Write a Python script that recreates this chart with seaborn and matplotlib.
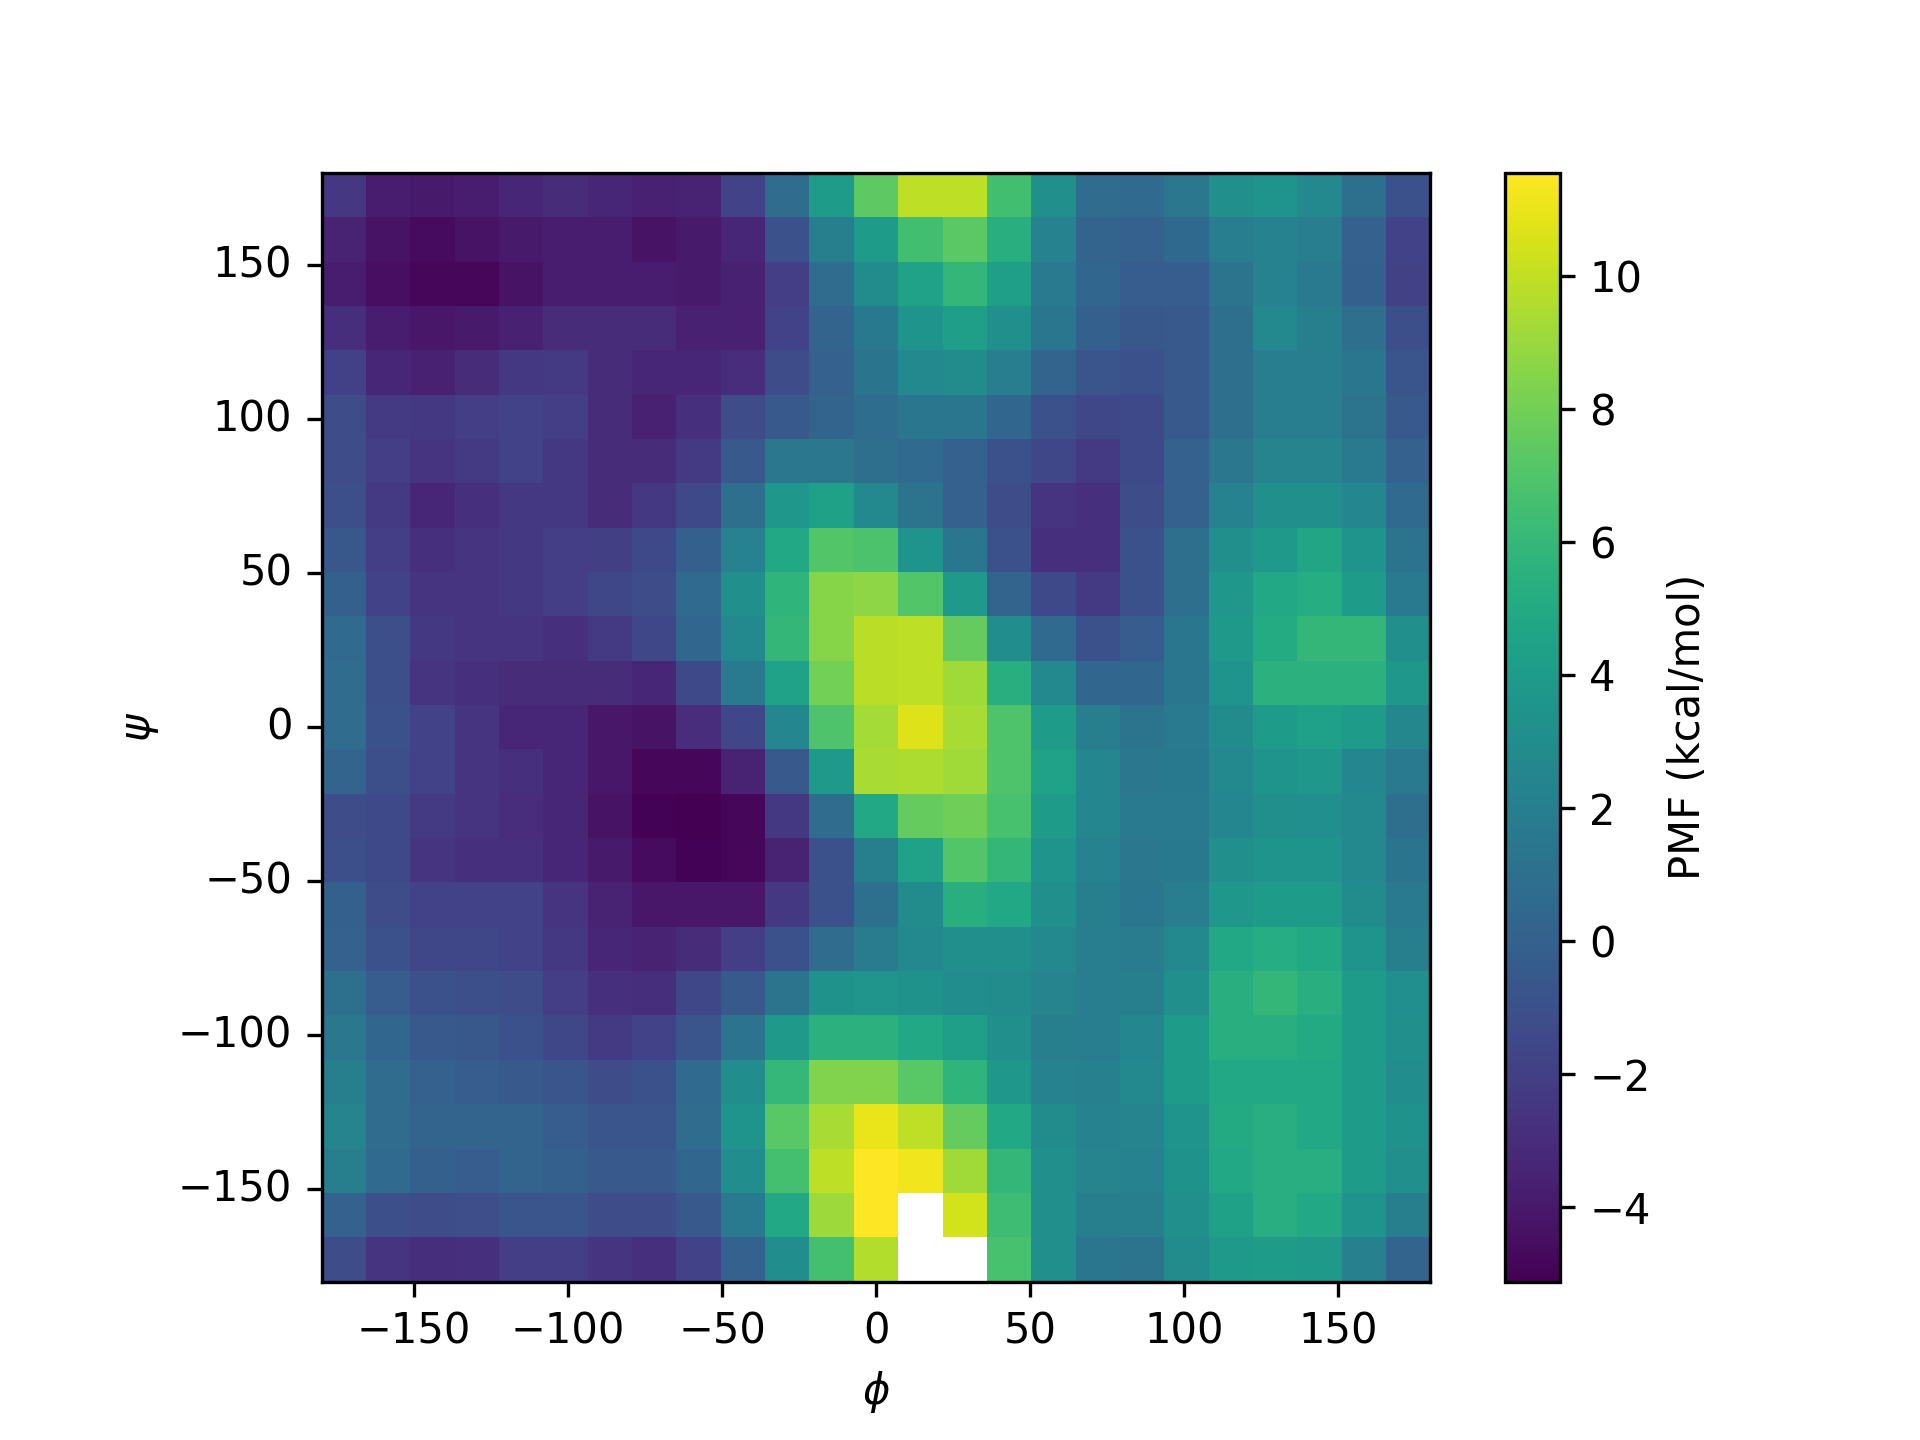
import numpy as np
import pandas as pd
import matplotlib
matplotlib.use("Agg")
import matplotlib.pyplot as plt
import seaborn as sns

nan = np.nan

# bin edges of the 2D histogram (25 x 25 bins over -180..180)
edges = np.linspace(-180, 180, 26)
phi = (edges[:-1] + edges[1:]) / 2
psi = phi[::-1]  # rows from top (psi=180) to bottom

# PMF values (kcal/mol), one list per psi row, top to bottom
r00 = [-2.5, -3.8, -4.0, -3.8, -3.3, -3.1, -3.3, -3.6, -3.5, -1.8, 0.7, 4.0, 7.4, 9.9, 9.9, 6.5, 3.2, 0.7, 0.6, 1.5, 3.2, 3.5, 2.7, 1.0, -1.0]
r01 = [-3.5, -4.3, -4.6, -4.3, -4.0, -3.8, -3.8, -4.3, -4.0, -3.3, -1.0, 2.0, 4.0, 6.5, 7.3, 5.4, 2.2, 0.2, 0.0, 0.5, 1.9, 2.2, 1.9, 0.0, -1.8]
r02 = [-3.8, -4.5, -4.8, -4.8, -4.3, -3.8, -3.8, -3.8, -4.0, -3.6, -2.1, 0.7, 2.9, 4.5, 5.9, 4.2, 1.7, 0.4, -0.3, -0.3, 1.2, 2.2, 1.7, -0.1, -1.9]
r03 = [-2.95, -3.8, -4.1, -4.0, -3.6, -3.1, -3.1, -3.1, -3.6, -3.6, -1.8, 0.2, 1.6, 3.5, 4.2, 3.2, 1.4, -0.1, -0.6, -0.5, 0.9, 2.7, 2.0, 0.9, -1.1]
r04 = [-1.95, -3.3, -3.6, -3.1, -2.45, -2.3, -3.1, -3.3, -3.3, -3.0, -1.3, 0.0, 1.3, 2.7, 2.9, 1.9, 0.2, -0.8, -1.0, -0.5, 0.9, 1.9, 1.9, 1.4, -0.8]
r05 = [-1.3, -2.3, -2.45, -2.1, -1.8, -2.1, -3.1, -3.6, -2.8, -1.3, -0.5, 0.2, 0.8, 1.4, 1.4, 0.4, -1.0, -1.6, -1.45, -0.5, 0.9, 1.9, 1.9, 1.2, -0.5]
r06 = [-1.3, -2.1, -2.6, -2.3, -1.8, -2.45, -3.1, -3.1, -2.3, -0.5, 1.5, 1.5, 0.9, 0.6, 0.0, -1.0, -1.6, -2.3, -1.45, 0.0, 1.5, 2.4, 2.4, 1.7, 0.0]
r07 = [-1.1, -2.3, -3.3, -2.8, -2.45, -2.45, -3.1, -2.45, -1.45, 0.9, 3.7, 4.4, 2.7, 1.2, 0.0, -1.3, -2.6, -2.8, -1.3, 0.0, 2.2, 3.2, 3.2, 2.5, 0.6]
r08 = [-0.6, -2.1, -2.8, -2.6, -2.45, -2.1, -2.0, -1.45, -0.1, 2.2, 4.9, 7.0, 6.8, 3.5, 1.4, -1.0, -2.8, -2.8, -1.0, 0.9, 3.2, 3.9, 4.7, 3.5, 1.2]
r09 = [-0.1, -1.8, -2.6, -2.6, -2.45, -2.1, -1.6, -1.3, 0.6, 3.2, 5.7, 8.5, 8.7, 7.0, 3.9, 0.2, -1.45, -2.3, -1.0, 0.9, 3.7, 4.9, 5.2, 4.0, 1.7]
r10 = [0.6, -1.1, -2.45, -2.6, -2.6, -2.8, -2.3, -1.6, 0.4, 2.7, 5.9, 8.5, 9.8, 9.9, 7.6, 3.0, 0.6, -1.0, -0.3, 1.4, 3.9, 5.05, 5.9, 5.9, 3.2]
r11 = [0.7, -1.1, -2.6, -2.8, -3.1, -3.1, -3.1, -3.3, -1.45, 1.7, 4.5, 8.0, 9.8, 9.9, 9.2, 5.4, 2.7, 0.4, 0.4, 1.4, 3.5, 5.5, 5.5, 5.5, 3.7]
r12 = [0.7, -1.0, -1.8, -2.6, -3.3, -3.3, -4.1, -4.3, -3.0, -1.6, 2.5, 6.9, 9.3, 10.7, 9.4, 6.9, 4.0, 2.0, 1.2, 1.7, 2.9, 4.0, 4.3, 4.0, 2.6]
r13 = [0.2, -1.1, -1.8, -2.6, -2.8, -3.3, -4.1, -4.8, -4.8, -3.5, -0.5, 3.9, 9.4, 9.5, 9.2, 6.9, 4.5, 2.5, 1.5, 1.6, 2.7, 3.5, 3.7, 2.5, 1.7]
r14 = [-1.3, -1.45, -2.3, -2.6, -3.0, -3.3, -4.3, -5.0, -5.12, -4.8, -2.45, 0.7, 4.85, 7.6, 7.9, 6.7, 4.0, 2.5, 1.7, 1.7, 2.5, 3.2, 3.1, 2.7, 0.9]
r15 = [-1.1, -1.45, -2.6, -2.8, -2.8, -3.3, -4.0, -4.6, -5.0, -4.8, -3.5, -1.0, 2.0, 4.5, 7.0, 5.9, 3.5, 2.2, 1.5, 1.6, 3.2, 3.5, 3.5, 2.7, 1.3]
r16 = [-0.1, -1.3, -1.8, -1.8, -1.8, -2.6, -3.5, -4.1, -4.1, -4.1, -2.45, -1.0, 1.0, 2.9, 5.4, 4.9, 3.2, 2.0, 1.4, 1.9, 3.7, 4.0, 4.0, 2.9, 1.7]
r17 = [0.0, -1.0, -1.6, -1.6, -1.8, -2.45, -3.3, -3.5, -3.1, -2.1, -1.0, 0.7, 1.8, 2.7, 3.2, 3.2, 2.7, 1.9, 1.8, 2.7, 4.9, 5.2, 4.9, 3.5, 2.0]
r18 = [1.0, -0.3, -1.0, -1.1, -1.3, -2.1, -2.8, -2.95, -1.6, -0.5, 1.2, 3.4, 3.6, 3.4, 3.0, 2.9, 2.4, 1.9, 2.0, 3.2, 5.4, 5.9, 5.4, 4.0, 3.1]
r19 = [1.5, 0.4, -0.5, -0.6, -1.0, -1.6, -2.3, -1.8, -0.8, 1.2, 3.9, 5.5, 5.5, 4.9, 4.2, 3.2, 2.0, 1.9, 2.5, 4.0, 5.4, 5.4, 5.0, 4.0, 3.2]
r20 = [2.0, 0.7, 0.0, -0.3, -0.5, -0.8, -1.3, -1.0, 0.6, 3.0, 6.0, 8.4, 8.4, 7.2, 5.7, 3.7, 2.2, 2.1, 2.7, 4.0, 4.9, 4.9, 4.9, 4.0, 3.0]
r21 = [2.4, 0.7, 0.2, 0.2, 0.2, -0.3, -0.8, -0.8, 0.7, 3.5, 7.2, 9.4, 11.0, 9.9, 7.6, 4.9, 2.9, 2.3, 2.4, 3.5, 5.0, 5.3, 4.9, 4.0, 3.3]
r22 = [2.0, 0.6, -0.1, -0.3, 0.2, -0.1, -0.5, -0.5, 0.3, 3.0, 6.55, 9.9, 11.55, 11.2, 9.2, 5.9, 3.2, 2.4, 2.3, 3.3, 4.9, 5.3, 5.3, 4.0, 3.2]
r23 = [0.0, -1.1, -1.3, -1.2, -0.8, -0.8, -1.3, -1.3, -0.5, 1.7, 4.9, 9.1, 11.5, nan, 10.4, 6.4, 3.2, 2.0, 2.0, 3.2, 4.4, 5.3, 4.9, 3.5, 2.0]
r24 = [-1.3, -2.6, -2.95, -2.8, -2.1, -2.1, -2.6, -2.8, -1.8, 0.0, 3.0, 6.55, 9.6, nan, nan, 6.7, 3.2, 1.4, 1.2, 2.9, 3.9, 4.0, 3.9, 2.1, 0.2]

rows = [r00, r01, r02, r03, r04, r05, r06, r07, r08, r09, r10, r11, r12,
        r13, r14, r15, r16, r17, r18, r19, r20, r21, r22, r23, r24]

ticks = [-150, -100, -50, 0, 50, 100, 150]

pmf = pd.DataFrame(rows, index=psi, columns=phi)

fig = plt.figure(figsize=(6.4, 4.8), dpi=300)
ax = fig.add_subplot(111)
sns.heatmap(pmf, cmap="viridis", square=True, ax=ax,
            xticklabels=False, yticklabels=False,
            cbar_kws={"label": "PMF (kcal/mol)"})

# put numeric angle ticks on the cell grid
binw = 360 / len(phi)
labels = [str(t).replace("-", "\u2212") for t in ticks]
ax.set_xticks([(t + 180) / binw for t in ticks])
ax.set_xticklabels(labels, rotation=0)
ax.set_yticks([(180 - t) / binw for t in ticks])
ax.set_yticklabels(labels, rotation=0, va="center")
ax.tick_params(length=3.5, width=0.8)
ax.set_xlabel(r"$\phi$")
ax.set_ylabel(r"$\psi$")

# heatmap hides the frames, bring them back
for s in ax.spines.values():
    s.set_visible(True)
    s.set_linewidth(0.8)
cb = ax.collections[0].colorbar
cb.outline.set_linewidth(0.8)
cb.ax.tick_params(length=3.5, width=0.8)

plt.savefig("out.png", dpi=300)
